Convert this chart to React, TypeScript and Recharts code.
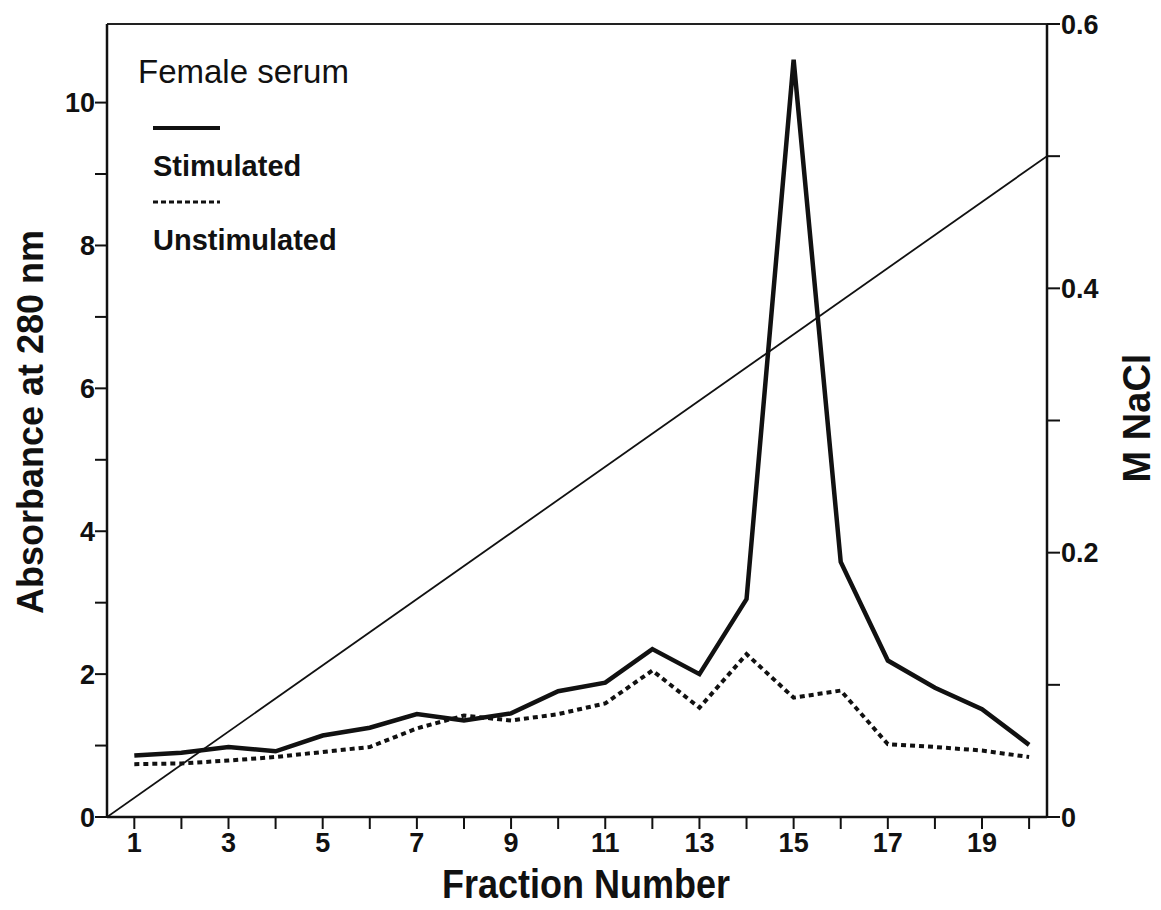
import React from 'react';
import { LineChart, Line, XAxis, YAxis, ReferenceLine } from 'recharts';

// fraction numbers along the bottom axis
const fractions = [1, 2, 3, 4, 5, 6, 7, 8, 9, 10, 11, 12, 13, 14, 15, 16, 17, 18, 19, 20];

// absorbance at 280 nm
const stimulated = [0.86, 0.9, 0.98, 0.92, 1.14, 1.25, 1.44, 1.35, 1.45, 1.76, 1.88, 2.35, 2.0, 3.05, 10.6, 3.57, 2.19, 1.81, 1.51, 1.01];
const unstimulated = [0.74, 0.75, 0.79, 0.84, 0.91, 0.98, 1.24, 1.42, 1.35, 1.44, 1.59, 2.05, 1.53, 2.28, 1.67, 1.77, 1.02, 0.98, 0.93, 0.84];

// salt gradient, linear from the start to the end of the run
const gradientFractions = [0.42, 20.38];
const gradientNaCl = [0, 0.5];

const leftTicks = [0, 1, 2, 3, 4, 5, 6, 7, 8, 9, 10];
const rightTicks = [0, 0.1, 0.2, 0.3, 0.4, 0.5, 0.6];

const FONT = '"Liberation Sans", Arial, Helvetica, sans-serif';

const absorbance = fractions.map((f, i) => ({
  fraction: f,
  stimulated: stimulated[i],
  unstimulated: unstimulated[i],
}));

const gradient = gradientFractions.map((f, i) => ({ fraction: f, nacl: gradientNaCl[i] }));

const tickStyle = { fill: '#111', fontSize: 27, fontWeight: 700, fontFamily: FONT };

const LeftTitle = () => (
  <text
    x={0}
    y={0}
    transform="translate(43, 422) rotate(-90)"
    textAnchor="middle"
    fontSize={36}
    fontWeight={700}
    fontFamily={FONT}
    fill="#111"
  >
    Absorbance at 280 nm
  </text>
);

const RightTitle = () => (
  <text
    x={0}
    y={0}
    transform="translate(1150, 418) rotate(-90)"
    textAnchor="middle"
    fontSize={38}
    fontWeight={700}
    fontFamily={FONT}
    fill="#111"
  >
    M NaCl
  </text>
);

const BottomTitle = () => (
  <text
    x={0}
    y={0}
    transform="translate(586, 898) scale(0.9, 1)"
    textAnchor="middle"
    fontSize={40}
    fontWeight={700}
    fontFamily={FONT}
    fill="#111"
  >
    Fraction Number
  </text>
);

export default function App() {
  return (
    <div style={{ position: 'absolute', left: 0, top: 0, width: 1161, height: 910, background: '#fff' }}>
      <LineChart width={1161} height={910} margin={{ top: 24, right: 0, bottom: 0, left: 0 }}>
        <XAxis
          type="number"
          dataKey="fraction"
          domain={[0.42, 20.38]}
          allowDataOverflow
          ticks={fractions}
          tickFormatter={(v: number) => (v % 2 === 1 ? String(v) : '')}
          height={93}
          tickSize={12}
          tickMargin={4}
          tick={tickStyle}
          axisLine={{ stroke: '#111', strokeWidth: 2.5 }}
          tickLine={{ stroke: '#111', strokeWidth: 2 }}
          label={<BottomTitle />}
        />
        <YAxis
          yAxisId="left"
          domain={[0, 11.1]}
          allowDataOverflow
          ticks={leftTicks}
          tickFormatter={(v: number) => (v % 2 === 0 ? String(v) : '')}
          width={107}
          tickSize={12}
          tickMargin={0}
          tick={tickStyle}
          axisLine={{ stroke: '#111', strokeWidth: 2.5 }}
          tickLine={{ stroke: '#111', strokeWidth: 2 }}
          label={<LeftTitle />}
        />
        <YAxis
          yAxisId="right"
          orientation="right"
          domain={[0, 0.6]}
          allowDataOverflow
          ticks={rightTicks}
          tickFormatter={(v: number) => (Math.round(v * 10) % 2 === 0 ? String(Math.round(v * 10) / 10) : '')}
          width={114}
          tickSize={13}
          tickMargin={1}
          tick={tickStyle}
          axisLine={{ stroke: '#111', strokeWidth: 2.5 }}
          tickLine={{ stroke: '#111', strokeWidth: 2 }}
          label={<RightTitle />}
        />
        <ReferenceLine yAxisId="left" y={11.1} stroke="#222" strokeWidth={2} />
        <Line
          yAxisId="right"
          data={gradient}
          dataKey="nacl"
          stroke="#111"
          strokeWidth={1.8}
          dot={false}
          isAnimationActive={false}
        />
        <Line
          yAxisId="left"
          data={absorbance}
          dataKey="unstimulated"
          stroke="#111"
          strokeWidth={4}
          strokeDasharray="5 4"
          dot={false}
          isAnimationActive={false}
        />
        <Line
          yAxisId="left"
          data={absorbance}
          dataKey="stimulated"
          stroke="#111"
          strokeWidth={4.5}
          dot={false}
          isAnimationActive={false}
        />
      </LineChart>
      <svg
        width={300}
        height={230}
        style={{ position: 'absolute', left: 130, top: 50, fontFamily: FONT }}
      >
        <text x={8} y={33} fontSize={33} fill="#111">Female serum</text>
        <line x1={23} x2={90} y1={78} y2={78} stroke="#111" strokeWidth={4} />
        <text x={23} y={126} fontSize={29} fontWeight={700} fill="#111">Stimulated</text>
        <line x1={23} x2={90} y1={152} y2={152} stroke="#111" strokeWidth={3} strokeDasharray="5 3" />
        <text x={23} y={200} fontSize={29} fontWeight={700} fill="#111">Unstimulated</text>
      </svg>
    </div>
  );
}
